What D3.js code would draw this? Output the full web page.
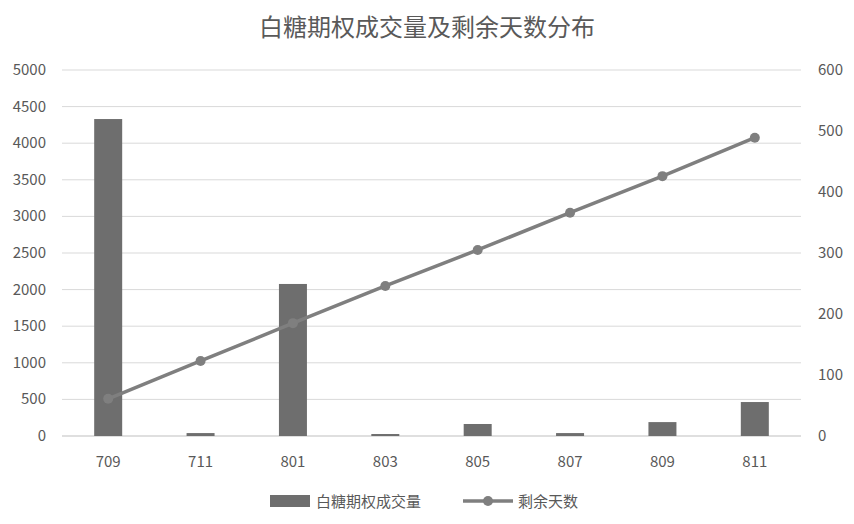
<!DOCTYPE html>
<html><head><meta charset="utf-8">
<script src="https://cdn.jsdelivr.net/npm/d3@7"></script>
<style>body{margin:0;background:#fff}text{font-family:"Noto Sans CJK SC","Open Sans",sans-serif}</style>
</head><body><svg id="c" width="854" height="524"></svg>
<script>
var categories = ['709','711','801','803','805','807','809','811'];
var volume = [4330, 40, 2077, 27, 164, 40, 190, 464];
var daysLeft = [61, 123, 185, 246, 305, 366, 426, 489];
var leftTicks = [0,500,1000,1500,2000,2500,3000,3500,4000,4500,5000];
var rightTicks = [0,100,200,300,400,500,600];

var svg = d3.select('#c');
var plotLeft = 62, plotRight = 801, plotTop = 70, plotBottom = 436;
var x = d3.scaleBand().domain(categories).range([plotLeft, plotRight]);
var yL = d3.scaleLinear().domain([0, 5000]).range([plotBottom, plotTop]);
var yR = d3.scaleLinear().domain([0, 600]).range([plotBottom, plotTop]);

svg.append('text').attr('x', 427).attr('y', 36).attr('text-anchor', 'middle')
    .attr('font-size', 24).attr('fill', '#595959').text('白糖期权成交量及剩余天数分布');

svg.selectAll('line.grid').data(leftTicks).enter().append('line')
    .attr('x1', plotLeft).attr('x2', plotRight)
    .attr('y1', d => yL(d)).attr('y2', d => yL(d))
    .attr('stroke', d => d === 0 ? '#bfbfbf' : '#d9d9d9');

svg.selectAll('text.yl').data(leftTicks).enter().append('text')
    .attr('x', 46).attr('y', d => yL(d) + 5).attr('text-anchor', 'end')
    .attr('font-size', 15).attr('fill', '#595959').text(d => d);
svg.selectAll('text.yr').data(rightTicks).enter().append('text')
    .attr('x', 818).attr('y', d => yR(d) + 5).attr('text-anchor', 'start')
    .attr('font-size', 15).attr('fill', '#595959').text(d => d);
svg.selectAll('text.xl').data(categories).enter().append('text')
    .attr('x', d => x(d) + x.bandwidth() / 2).attr('y', 467).attr('text-anchor', 'middle')
    .attr('font-size', 15).attr('fill', '#595959').text(d => d);

var bw = 28;
svg.selectAll('rect.bar').data(volume).enter().append('rect')
    .attr('x', (d, i) => x(categories[i]) + x.bandwidth() / 2 - bw / 2)
    .attr('y', d => yL(d)).attr('width', bw).attr('height', d => plotBottom - yL(d))
    .attr('fill', '#6e6e6e');

var line = d3.line().x((d, i) => x(categories[i]) + x.bandwidth() / 2).y(d => yR(d));
svg.append('path').datum(daysLeft).attr('d', line).attr('fill', 'none')
    .attr('stroke', '#7f7f7f').attr('stroke-width', 3.5);
svg.selectAll('circle.pt').data(daysLeft).enter().append('circle')
    .attr('cx', (d, i) => x(categories[i]) + x.bandwidth() / 2).attr('cy', d => yR(d))
    .attr('r', 5).attr('fill', '#7f7f7f');

// legend
svg.append('rect').attr('x', 270).attr('y', 495).attr('width', 40).attr('height', 12).attr('fill', '#6e6e6e');
svg.append('text').attr('x', 316).attr('y', 507).attr('font-size', 15).attr('fill', '#595959').text('白糖期权成交量');
svg.append('line').attr('x1', 463).attr('x2', 513).attr('y1', 501).attr('y2', 501).attr('stroke', '#7f7f7f').attr('stroke-width', 3.5);
svg.append('circle').attr('cx', 488).attr('cy', 501).attr('r', 5).attr('fill', '#7f7f7f');
svg.append('text').attr('x', 518).attr('y', 507).attr('font-size', 15).attr('fill', '#595959').text('剩余天数');
</script></body></html>
